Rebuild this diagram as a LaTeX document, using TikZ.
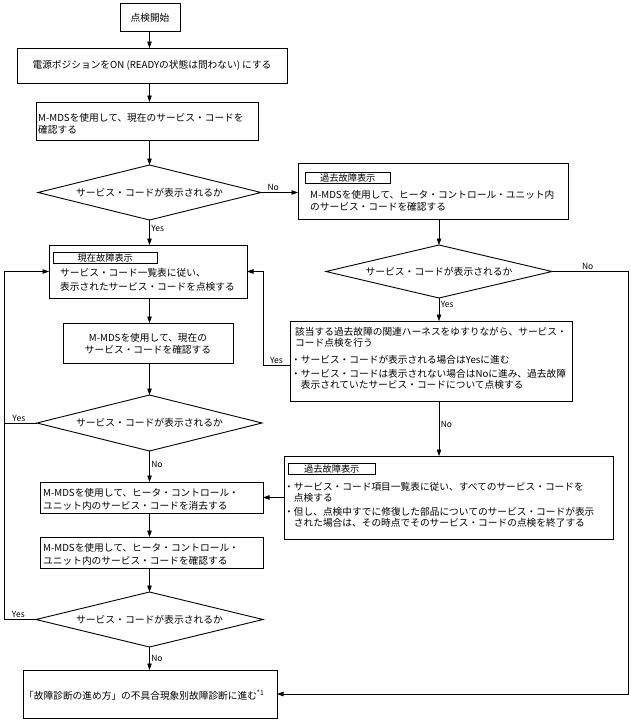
\documentclass[tikz,border=0pt]{standalone}
\usepackage{fontspec}
\setmainfont{Noto Sans CJK JP}
\usetikzlibrary{shapes.geometric,arrows.meta}
\newcommand\fz{\fontsize{9.7}{11.5}\selectfont}
\begin{document}
\begin{tikzpicture}[x=1pt,y=-1pt,
  box/.style={draw,line width=0.9pt,inner sep=0pt,outer sep=0pt,font=\fz},
  lbl/.style={draw,line width=0.6pt,inner sep=0pt,minimum height=11pt,font=\fontsize{9.2}{10}\selectfont},
  dia/.style={diamond,draw,line width=0.9pt,inner sep=0pt,outer sep=0pt,font=\fontsize{9.8}{11}\selectfont},
  txt/.style={inner sep=0pt,align=left,font=\fz},
  ln/.style={line width=0.6pt},
  arr/.style={ln,-{Triangle[length=6.5pt,width=4.5pt]}},
  yn/.style={font=\fontsize{8.5}{9}\selectfont,inner sep=1.5pt}
]
\useasboundingbox (0,0) rectangle (630,723);
\coordinate (L) at (149.5,0);
\coordinate (R) at (439,0);
% ---------- left column
\node[box,minimum width=60pt,minimum height=28pt] (start) at (150,17.5) {点検開始};
\node[box,minimum width=270pt,minimum height=35pt] (power) at (152,65.5) {電源ポジションをON (READYの状態は問わない) にする};
\node[box,minimum width=222pt,minimum height=38pt] (chk) at (147,121) {};
\node[txt,anchor=north west] (chkt) at (38,113.5) {M-MDSを使用して、現在のサービス・コードを\\確認する};
\node[dia,aspect=4.05,minimum width=223pt,minimum height=55pt] (d1) at (149.5,192.5) {サービス・コードが表示されるか};
\node[box,minimum width=198pt,minimum height=53pt] (gen) at (148,271.5) {};
\node[lbl,minimum width=104pt,anchor=north west] (genl) at (53,252) {現在故障表示};
\node[txt,anchor=north west,font=\fontsize{9.7}{14}\selectfont] (gent) at (60,268.5) {サービス・コード一覧表に従い、\\表示されたサービス・コードを点検する};
\node[box,minimum width=170pt,minimum height=40pt] (chk2) at (148,343) {};
\node[txt,align=center] (chk2t) at (148,344) {M-MDSを使用して、現在の\\サービス・コードを確認する};
\node[dia,aspect=4.02,minimum width=225pt,minimum height=56pt] (d3) at (149.5,423) {サービス・コードが表示されるか};
\node[box,minimum width=223pt,minimum height=31pt] (erase) at (151.5,497.5) {};
\node[txt,anchor=north west,font=\fontsize{9.7}{13}\selectfont] (eraset) at (43,488.5) {M-MDSを使用して、ヒータ・コントロール・\\ユニット内のサービス・コードを消去する};
\node[box,minimum width=223pt,minimum height=31pt] (chk3) at (151.5,552.5) {};
\node[txt,anchor=north west,font=\fontsize{9.7}{12.5}\selectfont] (chk3t) at (43,543.5) {M-MDSを使用して、ヒータ・コントロール・\\ユニット内のサービス・コードを確認する};
\node[dia,aspect=4.13,minimum width=227pt,minimum height=55pt] (d4) at (149.5,619.5) {サービス・コードが表示されるか};
\node[box,minimum width=254pt,minimum height=48pt] (fin) at (150,694) {};
\node[txt,anchor=west] (fint) at (24,695) {「故障診断の進め方」の不具合現象別故障診断に進む\textsuperscript{*1}};
% ---------- right column
\node[box,minimum width=270pt,minimum height=56pt] (p1) at (433,191) {};
\node[lbl,minimum width=85pt,anchor=north west] (p1l) at (305,172) {過去故障表示};
\node[txt,anchor=north west] (p1t) at (310,190.5) {M-MDSを使用して、ヒータ・コントロール・ユニット内\\のサービス・コードを確認する};
\node[dia,aspect=4.26,minimum width=226pt,minimum height=53pt] (d2) at (439,271.5) {サービス・コードが表示されるか};
\node[box,minimum width=282pt,minimum height=80pt] (har) at (431,361) {};
\node[txt,anchor=north west] (hart) at (295,327) {該当する過去故障の関連ハーネスをゆすりながら、サービス・\\コード点検を行う\\[5.5pt]\hspace*{-4pt}・サービス・コードが表示される場合はYesに進む\\[2pt]\hspace*{-4pt}・サービス・コードは表示されない場合はNoに進み、過去故障\\\hspace*{5.7pt}表示されていたサービス・コードについて点検する};
\node[box,minimum width=329pt,minimum height=83pt] (p2) at (448.5,497.5) {};
\node[lbl,minimum width=87pt,anchor=north west] (p2l) at (288,463) {過去故障表示};
\node[txt,anchor=north west] (p2t) at (284,482) {・サービス・コード項目一覧表に従い、すべてのサービス・コードを\\\hspace*{9.7pt}点検する\\[2pt]・但し、点検中すでに修復した部品についてのサービス・コードが表示\\\hspace*{9.7pt}された場合は、その時点でそのサービス・コードの点検を終了する};
% ---------- connectors
\coordinate (lx) at (4,0);
\coordinate (hx) at (263,0);
\coordinate (hy) at (0,365);
\coordinate (rc) at (628,0);
\draw[arr] (start.south -| L) -- (power.north -| L);
\draw[arr] (power.south -| L) -- (chk.north -| L);
\draw[arr] (chk.south -| L) -- (d1.north);
\draw[arr] (d1.south) -- (d1.south |- gen.north) node[yn,pos=0.32,right]{Yes};
\draw[arr] (d1.east) -- (d1.east -| p1.west) node[yn,pos=0.33,above]{No};
\draw[arr] (p1.south -| R) -- (d2.north);
\draw[arr] (d2.south) -- (d2.south |- har.north) node[yn,pos=0.3,right]{Yes};
\draw[arr] (d2.east) -- (d2.east -| rc) node[yn,pos=0.47,above]{No} -- (rc |- fin.east) -- (fin.east);
\draw[arr] (har.south -| R) -- (p2.north -| R) node[yn,pos=0.42,right]{No};
\draw[arr] (p2.west) -- (erase.east);
\draw[arr] (har.west |- hy) -- (hx |- hy) node[yn,pos=0.5,above]{Yes} -- (hx |- gen.east) -- (gen.east);
\draw[arr] (gen.south -| L) -- (chk2.north -| L);
\draw[arr] (chk2.south -| L) -- (d3.north);
\draw[arr] (d3.south) -- (d3.south |- erase.north) node[yn,pos=0.42,right]{No};
\draw[arr] (erase.south -| L) -- (chk3.north -| L);
\draw[arr] (chk3.south -| L) -- (d4.north);
\draw[arr] (d4.south) -- (d4.south |- fin.north) node[yn,pos=0.48,right]{No};
\draw[arr] (d3.west) -- (d3.west -| lx) node[yn,pos=0.55,above]{Yes} -- (lx |- gen.west) -- (gen.west);
\draw[ln] (d4.west) -- (d4.west -| lx) node[yn,pos=0.55,above]{Yes} -- (lx |- d3.west);
\end{tikzpicture}
\end{document}
